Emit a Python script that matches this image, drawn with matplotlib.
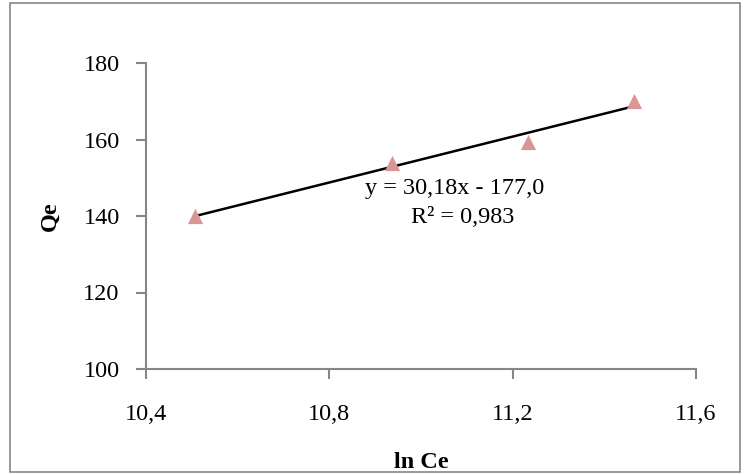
import numpy as np
import matplotlib.pyplot as plt
from matplotlib.patches import Rectangle

# data
ln_ce = [10.507, 10.937, 11.233, 11.465]
qe = [140.0, 153.9, 159.3, 170.1]
x_ticks = [10.4, 10.8, 11.2, 11.6]
y_ticks = [100, 120, 140, 160, 180]
eq_text = "y = 30,18x - 177,0"
r2_text = "R² = 0,983"

plt.rcParams['font.family'] = ['Liberation Serif', 'DejaVu Serif']
grey = '#868686'
fs = 17.5

fig = plt.figure(figsize=(7.45, 4.74), dpi=100)
# outer chart border
fig.patches.append(Rectangle((10 / 745, 2 / 474), 730 / 745, 469 / 474,
                             transform=fig.transFigure, fill=False,
                             edgecolor=grey, linewidth=1.2))

ax = fig.add_axes([146 / 745, 1 - 369 / 474, 550 / 745, 306 / 474])

# linear trendline
slope, icpt = np.polyfit(ln_ce, qe, 1)
xs = np.array([min(ln_ce), max(ln_ce)])
ax.plot(xs, slope * xs + icpt, color='black', linewidth=1.8, zorder=2)
ax.scatter(ln_ce, qe, marker='^', s=120, color='#D99694', zorder=3, linewidths=0)

ax.set_xlim(10.4, 11.6)
ax.set_ylim(100, 180)
ax.set_xticks(x_ticks)
ax.set_yticks(y_ticks)
ax.set_xticklabels([f"{v:.1f}".replace('.', ',') for v in x_ticks])
ax.set_yticklabels([str(v) for v in y_ticks])

for s in ['top', 'right']:
    ax.spines[s].set_visible(False)
for s in ['left', 'bottom']:
    ax.spines[s].set_color(grey)
    ax.spines[s].set_linewidth(1.5)
ax.tick_params(direction='out', length=7, width=1.5, color=grey,
               labelsize=fs, labelcolor='black')
ax.tick_params(axis='x', pad=18)
ax.tick_params(axis='y', pad=12)

ax.set_xlabel('ln Ce', fontsize=fs, fontweight='bold', labelpad=20)
ax.set_ylabel('Qe', fontsize=fs, fontweight='bold', labelpad=16)

ax.text(11.074, 147.3, eq_text, fontsize=fs, ha='center', va='center')
ax.text(11.09, 139.6, r2_text, fontsize=fs, ha='center', va='center')

fig.savefig('out.png', dpi=100)
